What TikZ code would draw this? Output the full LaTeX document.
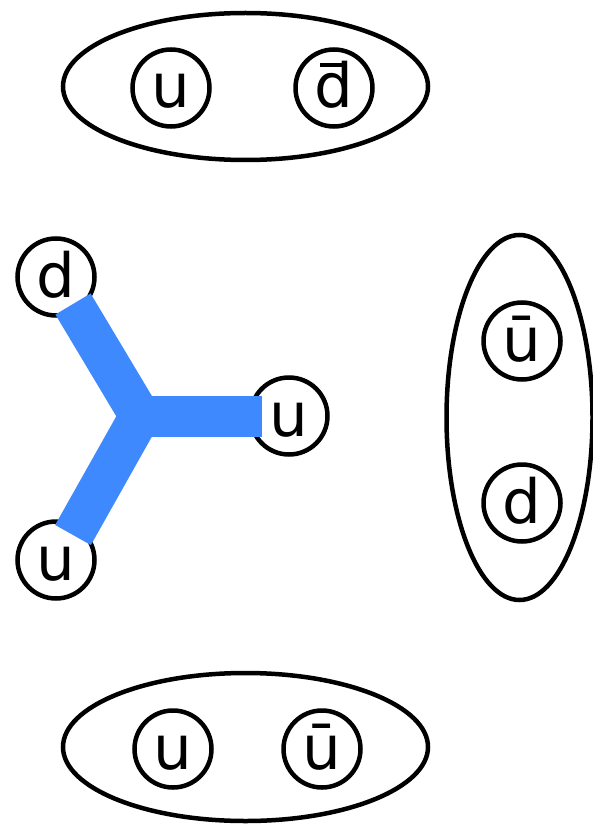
\documentclass[tikz,border=0pt]{standalone}
\usepackage{fontspec}
\setmainfont{DejaVu Sans}
\usetikzlibrary{shapes.geometric}
\definecolor{gluon}{RGB}{62,137,253}
\newcommand{\antid}{\makebox[0pt][l]{\hspace{5.5pt}\rule[41pt]{27pt}{3.5pt}}d}
\tikzset{
  quark/.style={circle, draw=black, line width=4.5pt, minimum size=77pt, inner sep=0pt,
    text height=40pt, text depth=0pt, font=\fontsize{61}{72}\selectfont},
  meson/.style={ellipse, draw=black, line width=4.5pt, inner sep=0pt},
  flux/.style={draw=gluon, line width=41pt, line cap=butt, line join=miter}
}
\begin{document}
\begin{tikzpicture}[x=1pt,y=-1pt]
\useasboundingbox (0,0) rectangle (593,826);
% mesons
\node[meson, minimum width=365pt, minimum height=147pt] (m1) at (245.5,86.5) {};
\node[quark] (m1a) at (171,88) {u};
\node[quark] (m1b) at (334,88) {\antid};
\node[meson, minimum width=146pt, minimum height=365pt] (m2) at (519.5,417.5) {};
\node[quark] (m2a) at (522,341) {ū};
\node[quark] (m2b) at (522,503) {d};
\node[meson, minimum width=365pt, minimum height=148pt] (m3) at (245.5,747) {};
\node[quark] (m3a) at (173,749) {u};
\node[quark] (m3b) at (322,749) {ū};
% baryon
\node[quark] (bd) at (56,277) {d};
\node[quark] (bu1) at (289,416) {u};
\node[quark] (bu2) at (56,560) {u};
\coordinate (J) at (140,416);
\coordinate (e1) at (73,304);
\coordinate (e2) at (73,535);
\coordinate (e3) at (262,416);
\path[flux] (e1) -- (J) -- (e2);
\path[flux] (J) -- (e3);
\end{tikzpicture}
\end{document}
